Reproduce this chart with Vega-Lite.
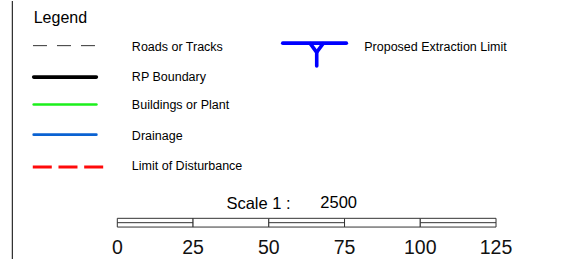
{
  "$schema": "https://vega.github.io/schema/vega-lite/v6.json",
  "width": 588,
  "height": 260,
  "autosize": {"type": "fit", "contains": "padding"},
  "padding": 0,
  "background": "white",
  "config": {"view": {"stroke": null}, "text": {"font": "Liberation Sans"}},
  "datasets": {
    "symbols": [
      {"item": "Roads or Tracks", "part": "r", "ord": 0, "x": -27.83, "y": 45},
      {"item": "Roads or Tracks", "part": "r", "ord": 1, "x": -7.36, "y": 45},
      {"item": "RP Boundary", "part": "b", "ord": 0, "x": -27.6, "y": 76.7},
      {"item": "RP Boundary", "part": "b", "ord": 1, "x": -6.9, "y": 76.7},
      {"item": "Buildings or Plant", "part": "g", "ord": 0, "x": -27.6, "y": 104.3},
      {"item": "Buildings or Plant", "part": "g", "ord": 1, "x": -6.9, "y": 104.3},
      {"item": "Drainage", "part": "d", "ord": 0, "x": -27.6, "y": 134.7},
      {"item": "Drainage", "part": "d", "ord": 1, "x": -6.9, "y": 134.7},
      {"item": "Limit of Disturbance", "part": "l", "ord": 0, "x": -27.9, "y": 167.3},
      {"item": "Limit of Disturbance", "part": "l", "ord": 1, "x": -4.6, "y": 167.3},
      {"item": "Proposed Extraction Limit", "part": "bar", "ord": 0, "x": 54.6, "y": 42.5},
      {"item": "Proposed Extraction Limit", "part": "bar", "ord": 1, "x": 75.6, "y": 42.5},
      {"item": "Proposed Extraction Limit", "part": "left", "ord": 0, "x": 63.7, "y": 43},
      {"item": "Proposed Extraction Limit", "part": "left", "ord": 1, "x": 65.82, "y": 51.7},
      {"item": "Proposed Extraction Limit", "part": "left", "ord": 2, "x": 65.82, "y": 65.5},
      {"item": "Proposed Extraction Limit", "part": "right", "ord": 0, "x": 67.9, "y": 43},
      {"item": "Proposed Extraction Limit", "part": "right", "ord": 1, "x": 65.82, "y": 51.7}
    ],
    "labels": [
      {"label": "Legend", "kind": "title", "x": -27.6, "y": 21.7},
      {"label": "Roads or Tracks", "kind": "item", "x": 4.8, "y": 50.5},
      {"label": "RP Boundary", "kind": "item", "x": 4.8, "y": 80.5},
      {"label": "Buildings or Plant", "kind": "item", "x": 4.8, "y": 108.6},
      {"label": "Drainage", "kind": "item", "x": 4.8, "y": 140.5},
      {"label": "Limit of Disturbance", "kind": "item", "x": 4.8, "y": 170.6},
      {"label": "Proposed Extraction Limit", "kind": "item", "x": 81.5, "y": 50.2},
      {"label": "Scale 1 :", "kind": "scale", "x": 36.0, "y": 210},
      {"label": "2500", "kind": "scale", "x": 67.0, "y": 209}
    ],
    "scalebar": [
      {"from": 0, "to": 25, "split": "yes"},
      {"from": 25, "to": 50, "split": "no"},
      {"from": 50, "to": 75, "split": "yes"},
      {"from": 75, "to": 100, "split": "no"},
      {"from": 100, "to": 125, "split": "yes"}
    ],
    "ticks": [
      {"value": 0}, {"value": 25}, {"value": 50}, {"value": 75}, {"value": 100}, {"value": 125}
    ],
    "frame": [
      {"x": -34.66, "top": 0, "bottom": 260}
    ]
  },
  "layer": [
    {
      "data": {"name": "frame"},
      "mark": {"type": "rule", "color": "#000000", "strokeWidth": 1},
      "encoding": {
        "x": {"field": "x", "type": "quantitative", "scale": {"domain": [-38.72, 155.36], "nice": false, "zero": false}, "axis": null},
        "y": {"field": "top", "type": "quantitative", "scale": {"domain": [0, 260], "nice": false, "zero": false, "reverse": true}, "axis": null},
        "y2": {"field": "bottom"}
      }
    },
    {
      "data": {"name": "symbols"},
      "transform": [{"filter": "datum.item != 'Roads or Tracks' && datum.item != 'Limit of Disturbance'"}],
      "mark": {"type": "line", "strokeCap": "round", "strokeJoin": "round"},
      "encoding": {
        "x": {"field": "x", "type": "quantitative"},
        "y": {"field": "y", "type": "quantitative"},
        "detail": {"field": "part"},
        "order": {"field": "ord"},
        "color": {"field": "item", "type": "nominal", "legend": null,
          "scale": {"domain": ["Roads or Tracks", "RP Boundary", "Buildings or Plant", "Drainage", "Limit of Disturbance", "Proposed Extraction Limit"],
                    "range": ["#333333", "#000000", "#1cf01c", "#0a62d2", "#ff0a0a", "#0000ff"]}},
        "strokeWidth": {"field": "item", "type": "nominal", "legend": null,
          "scale": {"type": "ordinal", "domain": ["Roads or Tracks", "RP Boundary", "Buildings or Plant", "Drainage", "Limit of Disturbance", "Proposed Extraction Limit"],
                    "range": [1, 3.6, 2.6, 2.6, 3, 3.6]}}
      }
    },
    {
      "data": {"name": "symbols"},
      "transform": [{"filter": "datum.item == 'Roads or Tracks' || datum.item == 'Limit of Disturbance'"}],
      "mark": {"type": "line", "strokeCap": "butt"},
      "encoding": {
        "x": {"field": "x", "type": "quantitative"},
        "y": {"field": "y", "type": "quantitative"},
        "detail": {"field": "part"},
        "order": {"field": "ord"},
        "color": {"field": "item", "type": "nominal", "legend": null,
          "scale": {"domain": ["Roads or Tracks", "RP Boundary", "Buildings or Plant", "Drainage", "Limit of Disturbance", "Proposed Extraction Limit"],
                    "range": ["#333333", "#000000", "#1cf01c", "#0a62d2", "#ff0a0a", "#0000ff"]}},
        "strokeWidth": {"field": "item", "type": "nominal", "legend": null,
          "scale": {"type": "ordinal", "domain": ["Roads or Tracks", "RP Boundary", "Buildings or Plant", "Drainage", "Limit of Disturbance", "Proposed Extraction Limit"],
                    "range": [1, 3.6, 2.6, 2.6, 3, 3.6]}},
        "strokeDash": {"field": "item", "type": "nominal", "legend": null,
          "scale": {"domain": ["Roads or Tracks", "Limit of Disturbance"],
                    "range": [[14, 10], [19, 6.7]]}}
      }
    },
    {
      "data": {"name": "scalebar"},
      "mark": {"type": "rect", "fill": "#ffffff", "stroke": "#333333", "strokeWidth": 1},
      "encoding": {
        "x": {"field": "from", "type": "quantitative"},
        "x2": {"field": "to"},
        "y": {"datum": 219},
        "y2": {"datum": 227.8}
      }
    },
    {
      "data": {"name": "scalebar"},
      "transform": [{"filter": "datum.split == 'yes'"}],
      "mark": {"type": "rule", "color": "#333333", "strokeWidth": 1},
      "encoding": {
        "x": {"field": "from", "type": "quantitative"},
        "x2": {"field": "to"},
        "y": {"datum": 223.4}
      }
    },
    {
      "data": {"name": "ticks"},
      "mark": {"type": "text", "align": "center", "baseline": "alphabetic", "fontSize": 19.5, "fontWeight": "normal", "color": "#111111"},
      "encoding": {
        "x": {"field": "value", "type": "quantitative"},
        "y": {"datum": 255},
        "text": {"field": "value", "type": "quantitative"}
      }
    },
    {
      "data": {"name": "labels"},
      "transform": [{"filter": "datum.kind == 'title'"}],
      "mark": {"type": "text", "align": "left", "baseline": "alphabetic", "fontSize": 16, "color": "#000000"},
      "encoding": {
        "x": {"field": "x", "type": "quantitative"},
        "y": {"field": "y", "type": "quantitative"},
        "text": {"field": "label"}
      }
    },
    {
      "data": {"name": "labels"},
      "transform": [{"filter": "datum.kind == 'item'"}],
      "mark": {"type": "text", "align": "left", "baseline": "alphabetic", "fontSize": 12.5, "color": "#000000"},
      "encoding": {
        "x": {"field": "x", "type": "quantitative"},
        "y": {"field": "y", "type": "quantitative"},
        "text": {"field": "label"}
      }
    },
    {
      "data": {"name": "labels"},
      "transform": [{"filter": "datum.kind == 'scale'"}],
      "mark": {"type": "text", "align": "left", "baseline": "alphabetic", "fontSize": 16.5, "color": "#000000"},
      "encoding": {
        "x": {"field": "x", "type": "quantitative"},
        "y": {"field": "y", "type": "quantitative"},
        "text": {"field": "label"}
      }
    }
  ]
}
